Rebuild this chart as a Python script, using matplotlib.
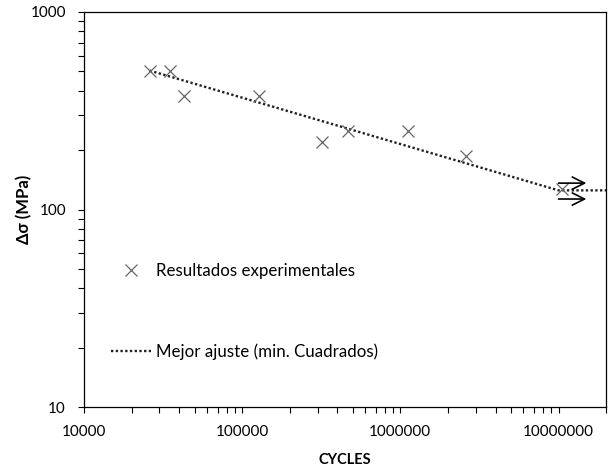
import matplotlib
matplotlib.use("Agg")
from matplotlib import pyplot as plt
from matplotlib.ticker import LogLocator, FuncFormatter, NullFormatter
import numpy as np

# experimental points (cycles, stress range MPa)
cycles = [26000, 35000, 43000, 128000, 318000, 467000, 1120000, 2600000, 10500000]
stress = [500, 500, 375, 375, 220, 250, 250, 187, 127]

# runouts (arrows pointing right)
runout_x = [10000000, 10000000]
runout_y = [136, 113]
runout_len = 1.5  # multiplicative length in x

# best fit line (Basquin + endurance plateau)
fit_x = [26000, 10000000, 20000000]
fit_y = [505, 125, 125]

plt.rcParams['font.family'] = ['Lato', 'DejaVu Sans']

fig = plt.figure(figsize=(6.11, 4.70), dpi=100)
ax = fig.add_axes([0.1375, 0.134, 0.8545, 0.8405])

ax.plot(fit_x, fit_y, linestyle=(0, (1, 1)), color='#222222', lw=1.7,
        label='Mejor ajuste (min. Cuadrados)', zorder=2)
ax.plot(cycles, stress, linestyle='none', marker='x', color='#666666',
        markersize=8.5, markeredgewidth=0.9, label='Resultados experimentales', zorder=3)
for x0, y0 in zip(runout_x, runout_y):
    ax.annotate('', xy=(x0 * runout_len, y0), xytext=(x0, y0),
                arrowprops=dict(arrowstyle='->', color='black', lw=1.2,
                                mutation_scale=22, shrinkA=0, shrinkB=0))

ax.set_xscale('log')
ax.set_yscale('log')
ax.set_xlim(1e4, 2e7)
ax.set_ylim(10, 1000)

plain = FuncFormatter(lambda v, p: '%d' % v)
ax.xaxis.set_major_formatter(plain)
ax.yaxis.set_major_formatter(plain)
ax.xaxis.set_minor_locator(LogLocator(base=10, subs=np.arange(2, 10)))
ax.yaxis.set_minor_locator(LogLocator(base=10, subs=np.arange(2, 10)))
ax.xaxis.set_minor_formatter(NullFormatter())
ax.yaxis.set_minor_formatter(NullFormatter())
ax.tick_params(which='both', direction='out', length=4, width=0.8, labelsize=11,
               colors='black')
ax.tick_params(axis='x', pad=9)
ax.tick_params(axis='y', pad=9)
for s in ax.spines.values():
    s.set_linewidth(0.9)

ax.set_xlabel('CYCLES', fontweight='bold', fontsize=10.5, labelpad=10)
ax.set_ylabel('Δσ (MPa)', fontweight='bold', fontsize=12, labelpad=-1)

h, l = ax.get_legend_handles_labels()
leg = ax.legend(h[::-1], l[::-1], loc='lower left', bbox_to_anchor=(0.022, 0.08),
                frameon=False, fontsize=12.2, labelspacing=3.8, handlelength=2.35,
                handletextpad=0.3)

fig.savefig('out.png', dpi=100)
